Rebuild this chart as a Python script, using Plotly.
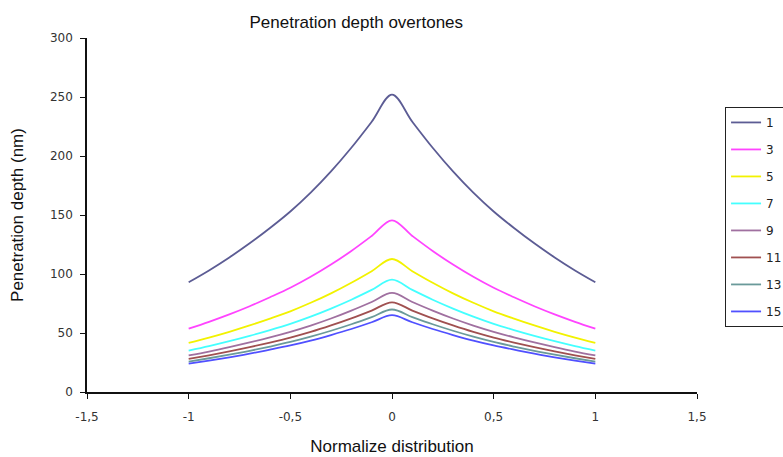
import plotly.graph_objects as go

x_vals = [-1.0, -0.9, -0.8, -0.7, -0.6, -0.5, -0.4, -0.3, -0.2, -0.1, 0.0,
          0.1, 0.2, 0.3, 0.4, 0.5, 0.6, 0.7, 0.8, 0.9, 1.0]

s1 = [93, 103, 114, 126, 139, 153, 169, 187, 207, 229, 252,
      229, 207, 187, 169, 153, 139, 126, 114, 103, 93]
s3 = [53.7, 59.5, 65.8, 72.7, 80.3, 88.3, 97.6, 108.0, 119.5, 132.2, 145.5,
      132.2, 119.5, 108.0, 97.6, 88.3, 80.3, 72.7, 65.8, 59.5, 53.7]
s5 = [41.6, 46.1, 51.0, 56.4, 62.2, 68.4, 75.6, 83.6, 92.6, 102.4, 112.7,
      102.4, 92.6, 83.6, 75.6, 68.4, 62.2, 56.4, 51.0, 46.1, 41.6]
s7 = [35.1, 38.9, 43.1, 47.6, 52.5, 57.8, 63.9, 70.7, 78.2, 86.5, 95.2,
      86.5, 78.2, 70.7, 63.9, 57.8, 52.5, 47.6, 43.1, 38.9, 35.1]
s9 = [31.0, 34.3, 38.0, 42.0, 46.3, 51.0, 56.3, 62.3, 69.0, 76.3, 84.0,
      76.3, 69.0, 62.3, 56.3, 51.0, 46.3, 42.0, 38.0, 34.3, 31.0]
s11 = [28.0, 31.1, 34.4, 38.0, 41.9, 46.1, 50.9, 56.4, 62.4, 69.0, 76.0,
       69.0, 62.4, 56.4, 50.9, 46.1, 41.9, 38.0, 34.4, 31.1, 28.0]
s13 = [25.8, 28.6, 31.6, 34.9, 38.5, 42.4, 46.9, 51.9, 57.4, 63.5, 69.9,
       63.5, 57.4, 51.9, 46.9, 42.4, 38.5, 34.9, 31.6, 28.6, 25.8]
s15 = [24.0, 26.6, 29.4, 32.5, 35.9, 39.5, 43.6, 48.3, 53.4, 59.1, 65.1,
       59.1, 53.4, 48.3, 43.6, 39.5, 35.9, 32.5, 29.4, 26.6, 24.0]

series_names = ["1", "3", "5", "7", "9", "11", "13", "15"]
series_values = [s1, s3, s5, s7, s9, s11, s13, s15]
series_colors = ["#5c5c94", "#ff44ff", "#f2f200", "#44ffff",
                 "#a070a0", "#a05050", "#6a9a9a", "#5050ff"]

x_tickvals = [-1.5, -1, -0.5, 0, 0.5, 1, 1.5]
x_ticktext = ["-1,5", "-1", "-0,5", "0", "0,5", "1", "1,5"]
y_tickvals = [0, 50, 100, 150, 200, 250, 300]

fig = go.Figure()
for name, vals, col in zip(series_names, series_values, series_colors):
    fig.add_trace(go.Scatter(
        x=x_vals, y=vals, mode="lines", name=name, legendgroup=name,
        line=dict(color=col, width=1.8, shape="spline", smoothing=1.0),
    ))

title_font = "Liberation Sans, Arial, sans-serif"
tick_font = "DejaVu Sans, sans-serif"
fig.update_layout(
    width=783, height=457,
    margin=dict(l=87, r=86, t=38, b=65, autoexpand=False),
    paper_bgcolor="white", plot_bgcolor="white",
    font=dict(family=title_font, color="#222"),
    title=dict(text="Penetration depth overtones", x=0.455, xanchor="center",
               y=0.952, yanchor="middle",
               font=dict(size=17, color="#111", family=title_font)),
    showlegend=True,
    legend=dict(xref="container", yref="container", x=0.926, y=0.766,
                xanchor="left", yanchor="top",
                bordercolor="#222", borderwidth=1, bgcolor="white",
                font=dict(size=12, color="#222", family=tick_font),
                traceorder="grouped", tracegroupgap=8, itemwidth=30),
    xaxis=dict(range=[-1.5, 1.5], tickvals=x_tickvals, ticktext=x_ticktext,
               showgrid=False, zeroline=False, showline=True, linecolor="#111",
               linewidth=1.5, ticks="outside", ticklen=5, tickcolor="#111",
               ticklabelstandoff=8,
               tickfont=dict(size=12, color="#333", family=tick_font),
               title=dict(text="Normalize distribution", standoff=17,
                          font=dict(size=17, color="#111", family=title_font))),
    yaxis=dict(range=[0, 300], tickvals=y_tickvals,
               showgrid=False, zeroline=False, showline=True, linecolor="#111",
               linewidth=1.5, ticks="outside", ticklen=5, tickcolor="#111",
               ticklabelstandoff=5,
               tickfont=dict(size=12, color="#333", family=tick_font),
               title=dict(text="Penetration depth (nm)", standoff=22,
                          font=dict(size=17, color="#111", family=title_font))),
)

fig.write_html("out.html")
